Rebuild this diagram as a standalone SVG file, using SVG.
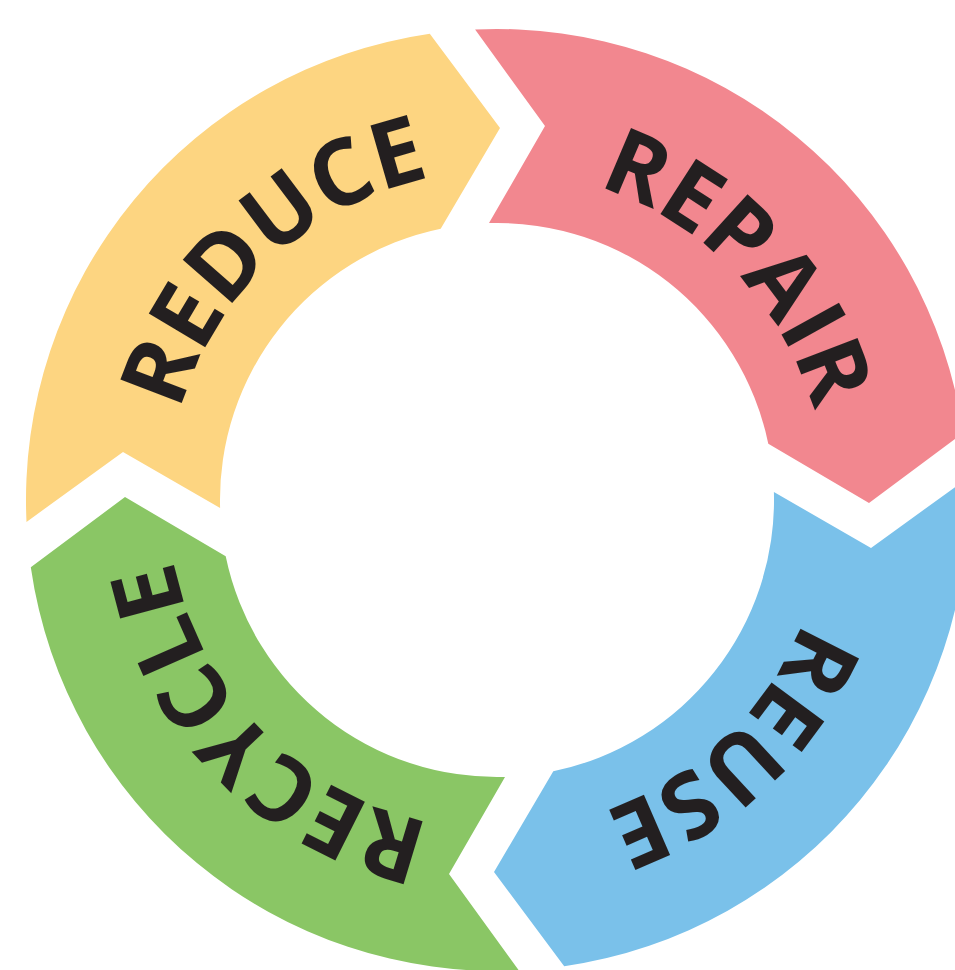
<svg xmlns="http://www.w3.org/2000/svg" xmlns:xlink="http://www.w3.org/1999/xlink" width="955" height="970" viewBox="0 0 955 970">
<style>
.lbl{font-family:"Open Sans","Noto Sans","Liberation Sans",sans-serif;font-weight:700;font-size:92px;fill:#231F20;}
.y{fill:#FDD581;}
.p{fill:#F2878F;}
.b{fill:#7AC1EA;}
.g{fill:#8AC665;}
</style>
<defs>
<path id="seg" d="M 26.5,521.9 L 123,452 L 220.1,508 A 277 277 0 0 1 440.7,228.7 L 500,128 L 429.8,33.8 A 471 471 0 0 0 26.5,521.9 Z"/>
<path id="arc" d="M 168,500 A 329 329 0 0 1 826,500" fill="none"/>
</defs>
<rect width="955" height="970" fill="#FFFFFF"/>
<g id="connectors"></g>
<g id="reduce">
<use xlink:href="#seg" class="y"/>
<g transform="rotate(-43 497 500)"><text class="lbl" text-anchor="middle"><textPath xlink:href="#arc" startOffset="50%">REDUCE</textPath></text></g>
</g>
<g id="repair">
<use xlink:href="#seg" class="p" transform="rotate(90 497 500)"/>
<g transform="rotate(46 497 500)"><text class="lbl" text-anchor="middle"><textPath xlink:href="#arc" startOffset="50%">REPAIR</textPath></text></g>
</g>
<g id="reuse">
<use xlink:href="#seg" class="b" transform="rotate(180 497 500)"/>
<g transform="rotate(136.3 497 500)"><text class="lbl" text-anchor="middle"><textPath xlink:href="#arc" startOffset="50%">REUSE</textPath></text></g>
</g>
<g id="recycle">
<use xlink:href="#seg" class="g" transform="rotate(270 497 500)"/>
<g transform="rotate(225.6 497 500)"><text class="lbl" text-anchor="middle"><textPath xlink:href="#arc" startOffset="50%">RECYCLE</textPath></text></g>
</g>
</svg>
